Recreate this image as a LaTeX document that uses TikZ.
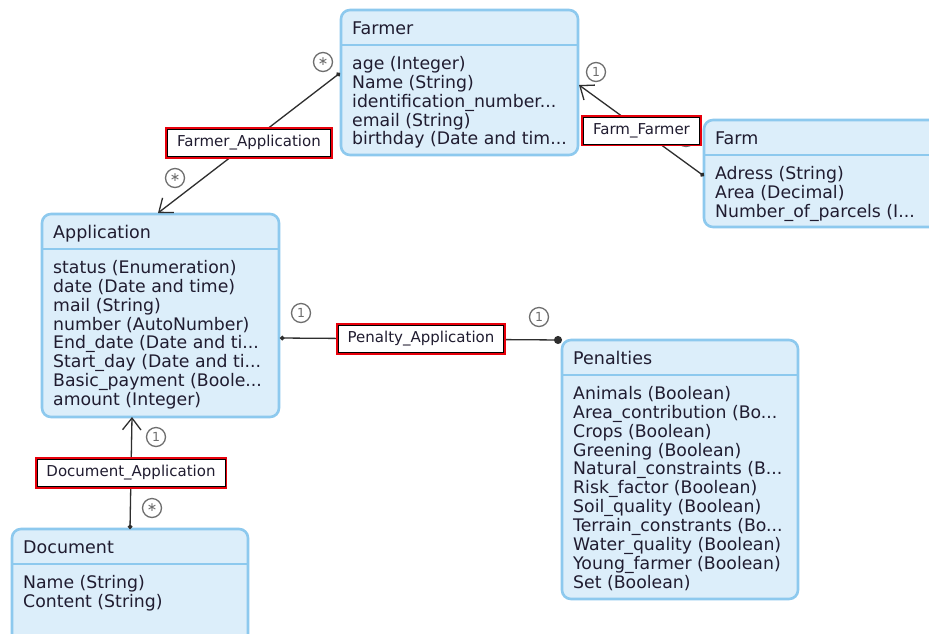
\documentclass[tikz,border=0pt]{standalone}
\usepackage{fontspec}
\setmainfont{DejaVu Sans}
\usetikzlibrary{arrows.meta,calc}

\definecolor{boxfill}{HTML}{DCEEFA}
\definecolor{boxline}{HTML}{8DC9EE}
\definecolor{ink}{HTML}{201C30}
\definecolor{multgray}{HTML}{6E6E6E}
\definecolor{linegray}{HTML}{2E2E2E}
\definecolor{tagred}{HTML}{E8000B}

\tikzset{
  classbox/.style={draw=boxline, line width=2.6pt, fill=boxfill,
    rounded corners=9pt, anchor=north west, inner sep=0pt, outer sep=0pt},
  divider/.style={draw=boxline, line width=2pt},
  classtitle/.style={anchor=base west, inner sep=0pt, text=ink,
    font=\fontsize{17.5}{19}\selectfont},
  attrs/.style={anchor=north west, inner sep=0pt, align=left, text=ink,
    font=\fontsize{17.3}{18.9}\selectfont},
  assoc/.style={draw=linegray, line width=1.3pt},
  tag/.style={draw=black, line width=0.9pt, fill=white, text=ink,
    preaction={draw=tagred, line width=4.4pt},
    inner xsep=9.5pt, inner ysep=0pt, minimum height=27pt,
    font=\fontsize{15}{17}\selectfont},
  mult/.style={circle, draw=multgray, line width=1.3pt, fill=white,
    minimum size=19pt, inner sep=0pt, text=multgray,
    font=\fontsize{12.5}{13}\selectfont},
  barb/.tip={Straight Barb[angle=76:15pt]},
  dot/.tip={Circle[length=4.5pt]},
  bigdot/.tip={Circle[length=8pt]}
}

% class box: name, left, top, width, height, title, attribute lines
% (the first attribute baseline sits 59pt below the box top)
\newcommand\umlclass[7]{%
  \node[classbox, minimum width=#4pt, minimum height=#5pt] (#1) at (#2,#3) {};
  \draw[divider] ($(#1.north west)+(0,35)$) -- ($(#1.north east)+(0,35)$);
  \node[classtitle] (#1-title) at ($(#1.north west)+(11,24)$) {#6};
  \node[attrs] (#1-attrs) at ($(#1.north west)+(11,46)$) {\rule{0pt}{13pt}#7};
}

\begin{document}
\begin{tikzpicture}[x=1pt, y=-1pt]
  \useasboundingbox (0,0) rectangle (929,633);
  \clip (0,0) rectangle (929,633);
  \fill[white] (0,0) rectangle (929,633);

  \umlclass{farmer}{341}{10}{237}{145}{Farmer}%
    {age (Integer)\\Name (String)\\identification\_number...\\email (String)\\birthday (Date and tim...}
  \umlclass{farm}{704}{120}{260}{107}{Farm}%
    {Adress (String)\\Area (Decimal)\\Number\_of\_parcels (I...}
  \umlclass{app}{42}{214}{237}{203}{Application}%
    {status (Enumeration)\\date (Date and time)\\mail (String)\\number (AutoNumber)\\End\_date (Date and ti...\\Start\_day (Date and ti...\\Basic\_payment (Boole...\\amount (Integer)}
  \umlclass{pen}{562}{340}{236}{259}{Penalties}%
    {Animals (Boolean)\\Area\_contribution (Bo...\\Crops (Boolean)\\Greening (Boolean)\\Natural\_constraints (B...\\Risk\_factor (Boolean)\\Soil\_quality (Boolean)\\Terrain\_constrants (Bo...\\Water\_quality (Boolean)\\Young\_farmer (Boolean)\\Set (Boolean)}
  \umlclass{doc}{12}{529}{236}{140}{Document}%
    {Name (String)\\Content (String)}

  % connector end points on the box borders
  \coordinate (fa1) at (340,73);
  \coordinate (fa2) at (158,213);
  \coordinate (ff1) at (704,176);
  \coordinate (ff2) at (579,85);
  \coordinate (pa1) at (280,338);
  \coordinate (pa2) at (562,340);
  \coordinate (da1) at (130,529);
  \coordinate (da2) at (132,417);

  % multiplicity behind the Farm_Farmer tag
  \node[mult] (m-ff-farm) at (686,137) {};

  % associations
  \draw[assoc, dot-barb] (fa1) -- node[tag] (t-fa) {Farmer\_Application} (fa2);
  \draw[assoc, dot-barb] (ff1) -- node[tag] (t-ff) {Farm\_Farmer} (ff2);
  \draw[assoc, dot-bigdot] (pa1) -- node[tag] (t-pa) {Penalty\_Application} (pa2);
  \draw[assoc, dot-barb] (da1) -- node[tag] (t-da) {Document\_Application} (da2);

  % multiplicities
  \node[mult] (m-fa-farmer) at (323,62) {∗};
  \node[mult] (m-fa-app) at (175,178) {∗};
  \node[mult] (m-ff-farmer) at (596,72) {1};
  \node[mult] (m-pa-app) at (301,313) {1};
  \node[mult] (m-pa-pen) at (539,317) {1};
  \node[mult] (m-da-app) at (156,437) {1};
  \node[mult] (m-da-doc) at (152,508) {∗};
\end{tikzpicture}
\end{document}
